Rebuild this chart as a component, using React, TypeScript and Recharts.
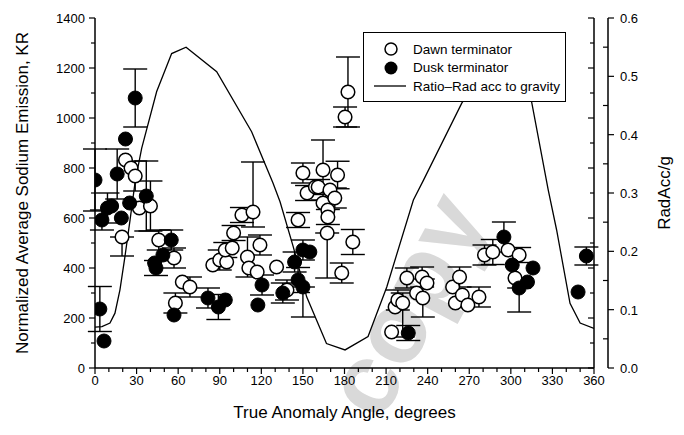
import React from "react";
import {
  ComposedChart,
  Scatter,
  Line,
  XAxis,
  YAxis,
  ErrorBar,
} from "recharts";

// dawn terminator (open circles)
const dawnAngle = [19.5, 22, 26, 29, 32, 40, 46, 57, 58, 63, 68.5, 85, 90, 95, 94, 99, 100, 106, 114, 110, 111, 119, 117, 131, 138.5, 146.5, 150, 153, 159, 161, 164.5, 164.5, 168, 168, 169.5, 173, 175, 167.5, 178, 180.4, 182.5, 186, 214, 216.5, 218.5, 222, 225, 232, 236, 236.5, 239.5, 258, 260, 263, 265, 269, 277, 281, 287, 298, 303, 306];
const dawnKR = [524, 832, 800, 768, 640, 648, 512, 440, 260, 344, 324, 412, 432, 424, 472, 480, 540, 612, 624, 444, 400, 492, 384, 404, 312, 592, 780, 700, 724, 724, 792, 660, 632, 604, 712, 680, 772, 540, 380, 1004, 1104, 504, 144, 244, 272, 260, 360, 300, 364, 280, 340, 324, 260, 364, 292, 252, 284, 452, 464, 472, 360, 452];
const dawnErr: (number | number[])[] = [[76, 0], 0, 0, 60, 0, 100, 40, 40, 40, 0, 40, 0, 40, 0, 30, 0, 30, 30, [60, 200], 80, 0, 40, 0, 0, 40, 30, 40, 30, 0, 30, 120, 0, 0, 30, 0, 40, 55, [180, 0], 40, 40, 140, 50, 0, 0, 40, [136, 40], 40, 0, 40, 76, 0, 0, 0, 40, 0, 0, 40, 40, 50, 0, 0, 30];

// dusk terminator (filled circles)
const duskAngle = [0, 3.5, 6.5, 5, 9, 12, 16, 19, 22, 25, 29, 37, 43, 44, 49, 55, 57, 81.5, 89, 94, 117.5, 120.5, 135.5, 144, 146.5, 150, 150, 155, 226, 295, 301, 306, 312, 316, 348.5, 354.5];
const duskKR = [752, 236, 108, 592, 640, 648, 776, 600, 916, 660, 1080, 688, 420, 400, 452, 512, 212, 280, 244, 272, 252, 332, 300, 424, 352, 472, 324, 464, 140, 524, 412, 320, 344, 400, 304, 448];
const duskErr: (number | number[])[] = [124, 90, 0, 40, 60, 0, 100, 0, 0, 0, 116, 140, 0, 30, 0, 40, 0, 40, 50, 0, 0, 40, 40, 40, 50, 40, [120, 0], 0, 30, 60, 0, [96, 0], 0, 0, 0, 36];

// ratio of radiation acceleration to gravity
const ratioAngle = [0, 5, 10.8, 14.4, 18, 21.6, 25.3, 29, 33.7, 44.5, 55.3, 65.7, 87.8, 113, 128.4, 133.5, 143, 152.7, 167, 180.4, 197, 210.5, 229.7, 237, 264.6, 280, 292, 303, 315, 327, 333, 342.7, 350, 360];
const ratioValue = [0.07, 0.071, 0.077, 0.094, 0.134, 0.191, 0.254, 0.32, 0.377, 0.474, 0.539, 0.55, 0.508, 0.405, 0.317, 0.285, 0.208, 0.122, 0.042, 0.031, 0.054, 0.139, 0.288, 0.322, 0.454, 0.51, 0.55, 0.53, 0.456, 0.305, 0.237, 0.111, 0.077, 0.068];

const xTicks = [0, 10, 20, 30, 40, 50, 60, 70, 80, 90, 100, 110, 120, 130, 140, 150, 160, 170, 180, 190, 200, 210, 220, 230, 240, 250, 260, 270, 280, 290, 300, 310, 320, 330, 340, 350, 360];
const krTicks = [0, 100, 200, 300, 400, 500, 600, 700, 800, 900, 1000, 1100, 1200, 1300, 1400];
const ratioTicks = [0, 0.05, 0.1, 0.15, 0.2, 0.25, 0.3, 0.35, 0.4, 0.45, 0.5, 0.55, 0.6];

const dawn = dawnAngle.map((a, i) => ({ angle: a, kr: dawnKR[i], err: dawnErr[i] }));
const dusk = duskAngle.map((a, i) => ({ angle: a, kr: duskKR[i], err: duskErr[i] }));
const ratio = ratioAngle.map((a, i) => ({ angle: a, ratio: ratioValue[i] }));

const FONT = "'Liberation Sans', Arial, Helvetica, sans-serif";
const lab = { fontFamily: FONT, fontSize: 13, fill: "#000" };

const BottomTick = (p: any) => {
  const v = p.payload.value;
  const major = v % 30 === 0;
  return (
    <g>
      <line x1={p.x} x2={p.x} y1={p.y} y2={p.y + (major ? 6 : 4)} stroke="#000" strokeWidth={1.2} />
      {major && (
        <text x={p.x} y={p.y + 17} textAnchor="middle" style={lab}>
          {v}
        </text>
      )}
    </g>
  );
};

const TopTick = (p: any) => {
  const major = p.payload.value % 30 === 0;
  return <line x1={p.x} x2={p.x} y1={p.y} y2={p.y + (major ? 6 : 4)} stroke="#000" strokeWidth={1.2} />;
};

const LeftTick = (p: any) => {
  const v = p.payload.value;
  const major = v % 200 === 0;
  return (
    <g>
      <line x1={p.x} x2={p.x - (major ? 6 : 4)} y1={p.y} y2={p.y} stroke="#000" strokeWidth={1.2} />
      {major && (
        <text x={p.x - 10} y={p.y + 5} textAnchor="end" style={lab}>
          {v}
        </text>
      )}
    </g>
  );
};

const FrameTick = (p: any) => {
  const major = p.payload.value % 200 === 0;
  return <line x1={p.x} x2={p.x - (major ? 6 : 4)} y1={p.y} y2={p.y} stroke="#000" strokeWidth={1.2} />;
};

const RightTick = (p: any) => {
  const v = p.payload.value;
  const major = Math.round(v * 100) % 10 === 0;
  return (
    <g>
      {major ? (
        <line x1={p.x} x2={p.x + 6} y1={p.y} y2={p.y} stroke="#000" strokeWidth={1.2} />
      ) : (
        <line x1={p.x} x2={p.x - 5} y1={p.y} y2={p.y} stroke="#000" strokeWidth={1.2} />
      )}
      {major && (
        <text x={p.x + 12} y={p.y + 5} textAnchor="start" style={lab}>
          {v.toFixed(1)}
        </text>
      )}
    </g>
  );
};

const OpenDot = (p: any) => <circle cx={p.cx} cy={p.cy} r={6.8} fill="#fff" stroke="#000" strokeWidth={1.5} />;
const FilledDot = (p: any) => <circle cx={p.cx} cy={p.cy} r={7} fill="#000" stroke="#000" strokeWidth={1} />;

const title = { fontFamily: FONT, fontSize: 17, fill: "#000" };

export default function App() {
  return (
    <div style={{ position: "absolute", left: 0, top: 0, width: 684, height: 435, background: "#fff", overflow: "hidden" }}>
      <div
        style={{
          position: "absolute",
          left: 405,
          top: 304,
          transform: "translate(-50%, -50%) rotate(-62deg)",
          fontFamily: FONT,
          fontWeight: "bold",
          fontSize: 100,
          lineHeight: 1,
          color: "#d9d9d9",
          whiteSpace: "nowrap",
        }}
      >
        copy
      </div>
      <div style={{ position: "absolute", left: 0, top: 0 }}>
        <ComposedChart width={684} height={435} margin={{ top: 18, right: 0, bottom: 0, left: 0 }}>
          <XAxis
            xAxisId="bottom"
            dataKey="angle"
            type="number"
            domain={[0, 360]}
            ticks={xTicks}
            interval={0}
            height={67}
            tickSize={0}
            tickMargin={0}
            tick={BottomTick}
            axisLine={{ stroke: "#000", strokeWidth: 1.5 }}
            tickLine={false}
            allowDataOverflow
            label={{
              value: "True Anomaly Angle, degrees",
              content: (p: any) => (
                <text x={p.viewBox.x + p.viewBox.width / 2} y={p.viewBox.y + 50} textAnchor="middle" style={title}>
                  True Anomaly Angle, degrees
                </text>
              ),
            }}
          />
          <XAxis
            xAxisId="top"
            orientation="top"
            type="number"
            domain={[0, 360]}
            ticks={xTicks}
            interval={0}
            height={0}
            tickSize={0}
            tickMargin={0}
            tick={TopTick}
            axisLine={{ stroke: "#000", strokeWidth: 1.5 }}
            tickLine={false}
            allowDataOverflow
          />
          <YAxis
            yAxisId="kr"
            type="number"
            domain={[0, 1400]}
            ticks={krTicks}
            interval={0}
            width={95}
            tickSize={0}
            tickMargin={0}
            tick={LeftTick}
            axisLine={{ stroke: "#000", strokeWidth: 1.5 }}
            tickLine={false}
            allowDataOverflow
            label={{
              value: "Normalized Average Sodium Emission, KR",
              content: (p: any) => {
                const cx = p.viewBox.x + 22;
                const cy = p.viewBox.y + p.viewBox.height / 2;
                return (
                  <text x={cx} y={cy} transform={`rotate(-90 ${cx} ${cy})`} textAnchor="middle" dominantBaseline="central" style={title}>
                    Normalized Average Sodium Emission, KR
                  </text>
                );
              },
            }}
          />
          <YAxis
            yAxisId="frame"
            orientation="right"
            type="number"
            domain={[0, 1400]}
            ticks={krTicks}
            interval={0}
            width={14}
            tickSize={0}
            tickMargin={0}
            tick={FrameTick}
            axisLine={{ stroke: "#000", strokeWidth: 1.5 }}
            tickLine={false}
            allowDataOverflow
          />
          <YAxis
            yAxisId="ratio"
            orientation="right"
            type="number"
            domain={[0, 0.6]}
            ticks={ratioTicks}
            interval={0}
            width={76}
            tickSize={0}
            tickMargin={0}
            tick={RightTick}
            axisLine={{ stroke: "#000", strokeWidth: 1.5 }}
            tickLine={false}
            allowDataOverflow
            label={{
              value: "RadAcc/g",
              content: (p: any) => {
                const cx = p.viewBox.x + 56;
                const cy = p.viewBox.y + p.viewBox.height / 2;
                return (
                  <text x={cx} y={cy} transform={`rotate(-90 ${cx} ${cy})`} textAnchor="middle" dominantBaseline="central" style={title}>
                    RadAcc/g
                  </text>
                );
              },
            }}
          />
          <Line
            xAxisId="bottom"
            yAxisId="ratio"
            data={ratio}
            dataKey="ratio"
            type="linear"
            stroke="#000"
            strokeWidth={1.3}
            dot={false}
            activeDot={false}
            isAnimationActive={false}
          />
          <Scatter xAxisId="bottom" yAxisId="kr" data={dawn} dataKey="kr" shape={OpenDot} isAnimationActive={false}>
            <ErrorBar dataKey="err" direction="y" width={12} stroke="#000" strokeWidth={1.4} />
          </Scatter>
          <Scatter xAxisId="bottom" yAxisId="kr" data={dusk} dataKey="kr" shape={FilledDot} isAnimationActive={false}>
            <ErrorBar dataKey="err" direction="y" width={12} stroke="#000" strokeWidth={1.4} />
          </Scatter>
        </ComposedChart>
      </div>
      <div
        style={{
          position: "absolute",
          left: 363,
          top: 32,
          width: 203,
          height: 70,
          border: "1.5px solid #000",
          background: "#fff",
          fontFamily: FONT,
          fontSize: 13.5,
          boxSizing: "border-box",
        }}
      >
        {[
          { kind: "open", text: "Dawn terminator" },
          { kind: "filled", text: "Dusk terminator" },
          { kind: "line", text: "Ratio\u2013Rad acc to gravity" },
        ].map((row, i) => (
          <div key={i} style={{ position: "absolute", left: 8, top: 8 + i * 18.5, height: 16, display: "flex", alignItems: "center" }}>
            <svg width={34} height={16} style={{ display: "block" }}>
              {row.kind === "open" && <circle cx={19} cy={8} r={6} fill="#fff" stroke="#000" strokeWidth={1.5} />}
              {row.kind === "filled" && <circle cx={19} cy={8} r={6.5} fill="#000" />}
              {row.kind === "line" && <line x1={2} x2={34} y1={8} y2={8} stroke="#000" strokeWidth={1.3} />}
            </svg>
            <span style={{ marginLeft: 7, whiteSpace: "nowrap" }}>{row.text}</span>
          </div>
        ))}
      </div>
    </div>
  );
}
